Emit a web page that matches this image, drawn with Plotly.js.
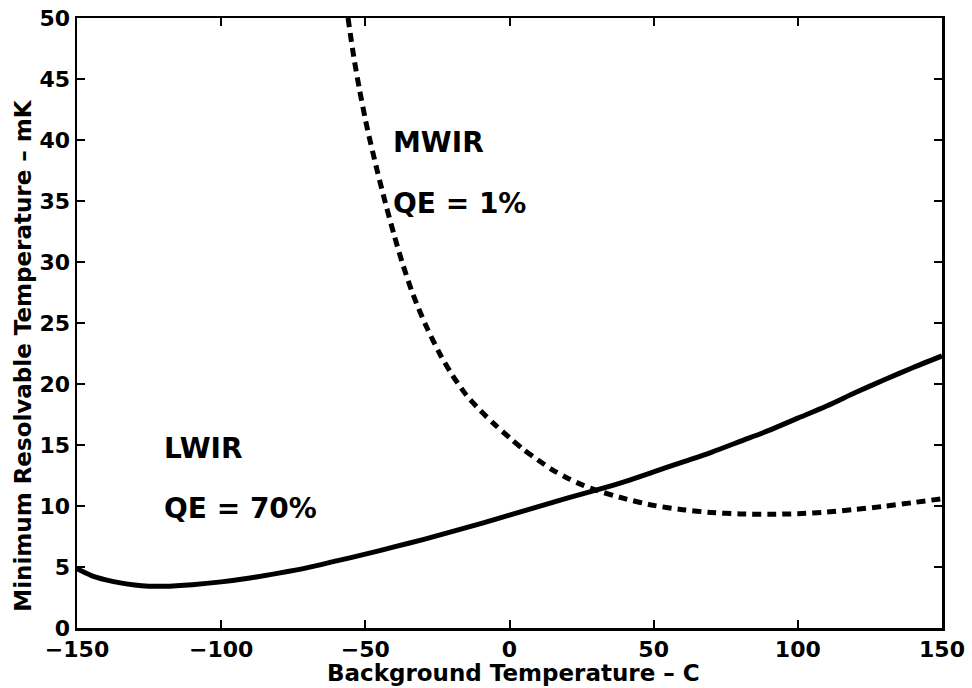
<!DOCTYPE html>
<html>
<head>
<meta charset="utf-8">
<script src="https://cdn.plot.ly/plotly-3.0.1.min.js"></script>
<style>html,body{margin:0;padding:0;background:#fff;}#chart{width:972px;height:688px;}</style>
</head>
<body>
<div id="chart"></div>
<script>
// LWIR (QE = 70%) - solid curve
const lwirTemp = [-150,-145,-140,-135,-130,-125,-120,-110,-100,-90,-80,-70,-60,-50,-40,-30,-20,-10,0,10,20,30,40,50,60,70,80,90,100,110,120,130,140,150];
const lwirMRT  = [4.85,4.3,3.95,3.7,3.52,3.43,3.42,3.55,3.78,4.1,4.5,4.95,5.5,6.05,6.65,7.25,7.9,8.55,9.25,9.95,10.65,11.3,12.0,12.8,13.6,14.4,15.3,16.2,17.2,18.2,19.3,20.35,21.35,22.3];
// MWIR (QE = 1%) - dashed curve
const mwirTemp = [-56,-54,-52,-50,-49,-46,-43,-40,-37,-33.4,-29,-24,-20,-15,-10,-5,0,5,10,15,20,25,30,40,50,60,70,80,90,100,110,120,130,140,150];
const mwirMRT  = [50,46.8,44.1,41.7,40.6,37.6,34.8,32.2,29.8,27.3,24.8,22.4,20.8,19.1,17.8,16.65,15.6,14.6,13.75,12.95,12.3,11.75,11.3,10.6,10.05,9.7,9.47,9.35,9.32,9.37,9.5,9.72,9.98,10.28,10.6];
// Text labels
const labelText = ["MWIR","QE = 1%","LWIR","QE = 70%"];
const labelX = [-41.2,-41.2,-120.6,-120.6];
const labelY = [39.8,34.8,14.7,9.8];
const xTitle = "Background Temperature – C";
const yTitle = "Minimum Resolvable Temperature – mK";

const FONT = "DejaVu Sans, Liberation Sans, Arial, sans-serif";

const traces = [
  {x: lwirTemp, y: lwirMRT, type: "scatter", mode: "lines", name: "LWIR",
   line: {color: "#000", width: 5, shape: "spline", smoothing: 0.8}},
  {x: mwirTemp, y: mwirMRT, type: "scatter", mode: "lines", name: "MWIR",
   line: {color: "#000", width: 5, dash: "9px,6px", shape: "spline", smoothing: 0.8}}
];

const annotations = labelText.map((t, i) => ({
  x: labelX[i], y: labelY[i], xref: "x", yref: "y", text: t, showarrow: false,
  xanchor: "left", yanchor: "middle",
  font: {family: FONT, size: 28, color: "#000", weight: "bold"}
}));
annotations.push({
  x: 0.5045, y: -0.0745, xref: "paper", yref: "paper", text: xTitle, showarrow: false,
  xanchor: "center", yanchor: "middle",
  font: {family: FONT, size: 23, color: "#000", weight: "bold"}
});
annotations.push({
  x: -0.062, y: 0.447, xref: "paper", yref: "paper", text: yTitle, showarrow: false,
  textangle: -90, xanchor: "center", yanchor: "middle",
  font: {family: FONT, size: 23, color: "#000", weight: "bold"}
});

const axisCommon = {
  showline: true, linecolor: "#000", linewidth: 2.5, mirror: "ticks",
  ticks: "inside", ticklen: 8, tickwidth: 2, tickcolor: "#000",
  showgrid: false, zeroline: false,
  tickfont: {family: FONT, size: 22, color: "#000", weight: "bold"}
};

const layout = {
  width: 972, height: 688,
  margin: {l: 77, r: 30, t: 18, b: 60},
  paper_bgcolor: "#fff", plot_bgcolor: "#fff",
  showlegend: false,
  xaxis: Object.assign({}, axisCommon, {
    range: [-150, 150], tickmode: "linear", tick0: -150, dtick: 50
  }),
  yaxis: Object.assign({}, axisCommon, {
    range: [0, 50], tickmode: "linear", tick0: 0, dtick: 5
  }),
  annotations: annotations
};

Plotly.newPlot("chart", traces, layout, {displayModeBar: false, staticPlot: true});
</script>
</body>
</html>
